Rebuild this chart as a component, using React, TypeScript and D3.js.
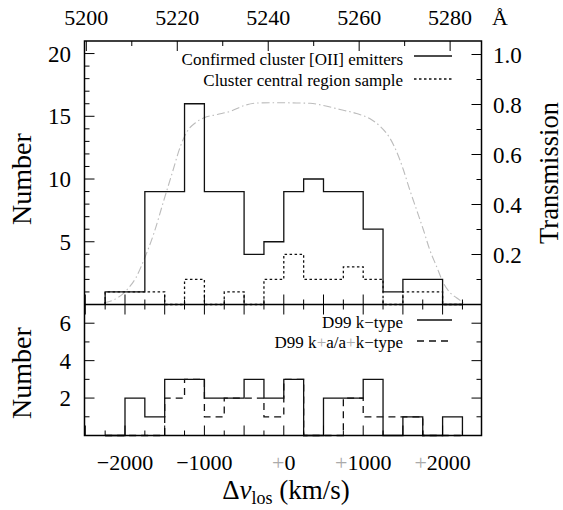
import * as d3 from "d3";

// velocity bins (km/s), 250 km/s wide
const binEdges = [-2250, -2000, -1750, -1500, -1250, -1000, -750, -500, -250, 0, 250, 500, 750, 1000, 1250, 1500, 1750, 2000, 2250];
const confirmedCounts = [1, 1, 9, 9, 16, 9, 9, 4, 5, 9, 10, 9, 9, 6, 1, 2, 2, 0];
const centralCounts = [1, 1, 1, 0, 2, 0, 1, 0, 2, 4, 2, 2, 3, 2, 0, 1, 1, 0];
const kTypeCounts = [0, 2, 1, 3, 3, 2, 2, 3, 2, 3, 0, 2, 2, 3, 0, 1, 0, 1];
const kaTypeCounts = [0, 0, 0, 2, 3, 1, 2, 2, 1, 3, 0, 0, 2, 1, 1, 1, 0, 0];

// filter transmission curve
const filterWavelength = [5203.9, 5206.9, 5209.0, 5210.9, 5212.7, 5214.9, 5217.1, 5218.9, 5220.7, 5222.2, 5224.0, 5225.9, 5228.8, 5231.7, 5234.7, 5237.6, 5240.5, 5243.4, 5246.2, 5249.2, 5252.1, 5255.8, 5259.4, 5262.4, 5264.6, 5266.7, 5268.2, 5269.7, 5271.1, 5272.6, 5274.1, 5275.5, 5277.0, 5278.5, 5280.0, 5281.4, 5282.9];
const filterTransmission = [0.007, 0.027, 0.06, 0.107, 0.18, 0.287, 0.42, 0.527, 0.633, 0.693, 0.727, 0.747, 0.76, 0.773, 0.796, 0.806, 0.807, 0.807, 0.806, 0.805, 0.796, 0.78, 0.764, 0.743, 0.713, 0.667, 0.613, 0.54, 0.46, 0.38, 0.3, 0.22, 0.153, 0.087, 0.047, 0.027, 0.007];

const wavelengthTicks = [5200, 5220, 5240, 5260, 5280];
const velocityTicks = [-2000, -1000, 0, 1000, 2000];
const velocitySigns = ["−", "−", "+", "+", "+"];
const velocityDigits = ["2000", "1000", "0", "1000", "2000"];
const countTicksTop = [5, 10, 15, 20];
const countTicksBottom = [2, 4, 6];
const transmissionTicks = [0.2, 0.4, 0.6, 0.8, 1.0];

const W = 563;
const H = 510;
const left = 84.5;
const right = 481.5;
const top = 41;
const mid = 304.5;
const bottom = 435.5;

const x = d3.scaleLinear().domain([-2510, 2490]).range([left, right]);
const xl = d3.scaleLinear().domain([5199.6, 5286.9]).range([left, right]);
const yTop = d3.scaleLinear().domain([0, 21]).range([mid, top]);
const yT = d3.scaleLinear().domain([0, 1.054]).range([mid, top]);
const yBot = d3.scaleLinear().domain([0, 7]).range([bottom, mid]);

function stepPath(counts: number[], y: d3.ScaleLinear<number, number>) {
  const pts: [number, number][] = [[binEdges[0], 0]];
  counts.forEach((c, i) => {
    pts.push([binEdges[i], c]);
    pts.push([binEdges[i + 1], c]);
  });
  pts.push([binEdges[binEdges.length - 1], 0]);
  return d3.line<[number, number]>().x((d) => x(d[0])).y((d) => y(d[1]))(pts) || "";
}

const curve = d3
  .line<number>()
  .x((d, i) => xl(filterWavelength[i]))
  .y((d) => yT(d))
  .curve(d3.curveMonotoneX)(filterTransmission) || "";

function Ticks() {
  const lines: JSX.Element[] = [];
  const add = (k: string, x1: number, y1: number, x2: number, y2: number) =>
    lines.push(<line key={k} x1={x1} y1={y1} x2={x2} y2={y2} />);
  // wavelength ticks, top edge
  d3.range(5200, 5290, 10).forEach((w) => {
    const len = w % 20 === 0 ? 10 : 5;
    add("w" + w, xl(w), top, xl(w), top + len);
  });
  // velocity ticks on top panel bottom, bottom panel top and bottom
  d3.range(-2500, 2500, 250).forEach((v) => {
    if (x(v) <= left + 0.5) return;
    const len = v % 500 === 0 ? 10 : 5;
    add("va" + v, x(v), mid, x(v), mid - len);
    add("vb" + v, x(v), mid, x(v), mid + len);
    add("vc" + v, x(v), bottom, x(v), bottom - len);
  });
  // count ticks top panel left
  d3.range(1, 21).forEach((c) => {
    const len = c % 5 === 0 ? 10 : 5;
    add("c" + c, left, yTop(c), left + len, yTop(c));
  });
  // transmission ticks right
  d3.range(1, 11).forEach((t) => {
    const len = t % 2 === 0 ? 10 : 5;
    add("t" + t, right, yT(t / 10), right - len, yT(t / 10));
  });
  // bottom panel ticks both sides
  d3.range(1, 7).forEach((c) => {
    const len = c % 2 === 0 ? 10 : 5;
    add("bl" + c, left, yBot(c), left + len, yBot(c));
    add("br" + c, right, yBot(c), right - len, yBot(c));
  });
  return (
    <g stroke="#000" strokeWidth={1}>
      {lines}
    </g>
  );
}

export default function App() {
  return (
    <svg
      width={W}
      height={H}
      fontFamily="Liberation Serif"
      style={{ position: "absolute", left: 0, top: 0, background: "#fff" }}
    >
      <rect width={W} height={H} fill="#fff" />

      {/* transmission curve */}
      <path d={curve} fill="none" stroke="#bcbcbc" strokeWidth={1.1} strokeDasharray="8,3,1.5,3" />

      {/* histograms */}
      <path d={stepPath(confirmedCounts, yTop)} fill="none" stroke="#111" strokeWidth={1.3} />
      <path d={stepPath(centralCounts, yTop)} fill="none" stroke="#111" strokeWidth={1.3} strokeDasharray="2.5,2.5" />
      <path d={stepPath(kTypeCounts, yBot)} fill="none" stroke="#111" strokeWidth={1.3} />
      <path d={stepPath(kaTypeCounts, yBot)} fill="none" stroke="#111" strokeWidth={1.3} strokeDasharray="7,5" />

      <Ticks />

      {/* frames */}
      <rect x={left} y={top} width={right - left} height={bottom - top} fill="none" stroke="#000" strokeWidth={1.5} />
      <line x1={left} x2={right} y1={mid} y2={mid} stroke="#000" strokeWidth={1.5} />

      {/* top wavelength labels */}
      <g fontSize={22} textAnchor="middle">
        {wavelengthTicks.map((w) => (
          <text key={w} x={xl(w)} y={25}>
            {w}
          </text>
        ))}
        <text x={500} y={25}>Å</text>
      </g>

      {/* left count labels */}
      <g fontSize={23} textAnchor="end">
        {countTicksTop.map((c) => (
          <text key={"t" + c} x={71} y={yTop(c) + 8}>
            {c}
          </text>
        ))}
        {countTicksBottom.map((c) => (
          <text key={"b" + c} x={71} y={yBot(c) + 8}>
            {c}
          </text>
        ))}
      </g>

      {/* right transmission labels */}
      <g fontSize={23} textAnchor="start">
        {transmissionTicks.map((t) => (
          <text key={t} x={493} y={yT(t) + 8}>
            {t.toFixed(1)}
          </text>
        ))}
      </g>

      {/* bottom velocity labels */}
      <g fontSize={22} textAnchor="middle">
        {velocityTicks.map((v, i) => (
          <text key={v} x={x(v)} y={470}>
            <tspan fill={velocitySigns[i] === "+" ? "#aaa" : "#000"}>{velocitySigns[i]}</tspan>
            {velocityDigits[i]}
          </text>
        ))}
      </g>

      {/* axis titles */}
      <text x={286} y={499} fontSize={27} textAnchor="middle">
        Δ<tspan fontStyle="italic">v</tspan>
        <tspan dy={5} fontSize={18}>los</tspan>
        <tspan dy={-5}> (km/s)</tspan>
      </text>
      <text transform={`translate(31,179) rotate(-90)`} fontSize={28} textAnchor="middle">
        Number
      </text>
      <text transform={`translate(31,373) rotate(-90)`} fontSize={28} textAnchor="middle">
        Number
      </text>
      <text transform={`translate(558,173) rotate(-90)`} fontSize={26.5} textAnchor="middle">
        Transmission
      </text>

      {/* legends */}
      <g fontSize={17} textAnchor="end">
        <text x={403} y={65}>Confirmed cluster [OII] emitters</text>
        <text x={403} y={86}>Cluster central region sample</text>
        <text x={403} y={328}>D99 k−type</text>
        <text x={403} y={348}>
          D99 k<tspan fill="#aaa">+</tspan>a/a<tspan fill="#aaa">+</tspan>k−type
        </text>
      </g>
      <g stroke="#111" strokeWidth={1.3}>
        <line x1={414} x2={452} y1={56} y2={56} />
        <line x1={414} x2={452} y1={79} y2={79} strokeDasharray="2.5,2.5" />
        <line x1={417} x2={452} y1={320} y2={320} />
        <line x1={417} x2={452} y1={341} y2={341} strokeDasharray="7,5" />
      </g>
    </svg>
  );
}
